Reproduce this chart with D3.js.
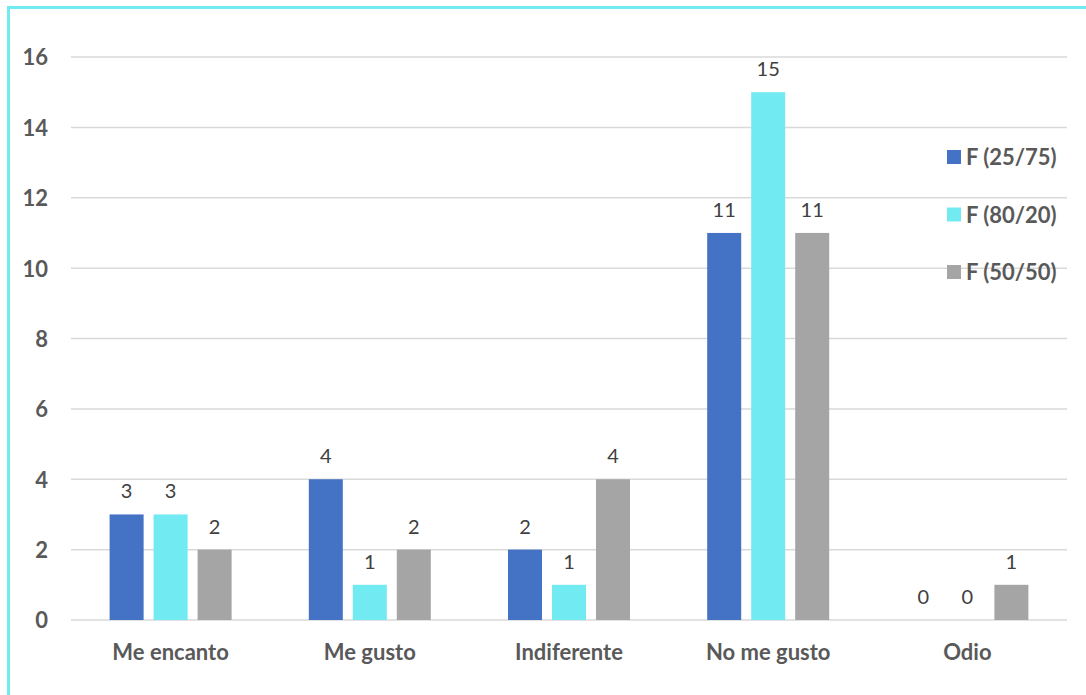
<!DOCTYPE html>
<html>
<head>
<meta charset="utf-8">
<script src="https://cdn.jsdelivr.net/npm/d3@7"></script>
<style>
  html, body { margin: 0; padding: 0; background: #fff; }
  svg { display: block; }
</style>
</head>
<body>
<svg id="chart" width="1086" height="695"></svg>
<script>
// Responses per preference level, one series per formulation
const categories = ["Me encanto", "Me gusto", "Indiferente", "No me gusto", "Odio"];
const seriesNames = ["F (25/75)", "F (80/20)", "F (50/50)"];
const f2575 = [3, 4, 2, 11, 0];
const f8020 = [3, 1, 1, 15, 0];
const f5050 = [2, 2, 4, 11, 1];
const yTicks = [0, 2, 4, 6, 8, 10, 12, 14, 16];
const colors = ["#4472C4", "#72EAF2", "#A5A5A5"];

const series = [f2575, f8020, f5050];
const svg = d3.select("#chart");
const font = "Lato, 'Open Sans', sans-serif";

// Frame: accent lines along left and top edges
svg.append("line").attr("x1", 8.5).attr("x2", 8.5).attr("y1", 6).attr("y2", 695)
  .attr("stroke", "#72EAF2").attr("stroke-width", 3);
svg.append("line").attr("x1", 7).attr("x2", 1086).attr("y1", 7.5).attr("y2", 7.5)
  .attr("stroke", "#72EAF2").attr("stroke-width", 3);

const plot = { left: 71, right: 1067, top: 57, bottom: 620 };

const x = d3.scaleBand().domain(categories).range([plot.left, plot.right]);
const y = d3.scaleLinear().domain([0, 16]).range([plot.bottom, plot.top]);
const inner = d3.scaleBand().domain(d3.range(series.length))
  .range([-61, 61]).paddingInner(0.227);

// Horizontal gridlines
svg.append("g").selectAll("line").data(yTicks).join("line")
  .attr("x1", plot.left).attr("x2", plot.right)
  .attr("y1", d => y(d)).attr("y2", d => y(d))
  .attr("stroke", "#D9D9D9").attr("stroke-width", 1.5);

// Y axis labels
const yAxis = d3.axisLeft(y).tickValues(yTicks).tickSize(0).tickPadding(0);
const yg = svg.append("g").attr("transform", `translate(48,0)`).call(yAxis);
yg.select(".domain").remove();
yg.selectAll("text")
  .attr("font-family", font).attr("font-size", 22).attr("font-weight", "bold")
  .attr("fill", "#595959").attr("dy", "0.36em");

// X axis labels
const xAxis = d3.axisBottom(x).tickSize(0).tickPadding(0);
const xg = svg.append("g").attr("transform", `translate(0,660)`).call(xAxis);
xg.select(".domain").remove();
xg.selectAll("text")
  .attr("font-family", font).attr("font-size", 22).attr("font-weight", "bold")
  .attr("fill", "#595959").attr("y", 0).attr("dy", 0);

// Bars and value labels
series.forEach((vals, si) => {
  const g = svg.append("g");
  const cx = (c) => x(c) + x.bandwidth() / 2 + inner(si);
  g.selectAll("rect").data(categories).join("rect")
    .attr("x", c => cx(c))
    .attr("width", inner.bandwidth())
    .attr("y", (c, i) => y(vals[i]))
    .attr("height", (c, i) => y(0) - y(vals[i]))
    .attr("fill", colors[si]);
  g.selectAll("text").data(categories).join("text")
    .attr("x", c => cx(c) + inner.bandwidth() / 2)
    .attr("y", (c, i) => y(vals[i]) - 16)
    .attr("text-anchor", "middle")
    .attr("font-family", font).attr("font-size", 20)
    .attr("fill", "#404040")
    .text((c, i) => vals[i]);
});

// Legend
const legend = svg.append("g");
seriesNames.forEach((name, i) => {
  const ly = 157 + i * 57.5;
  legend.append("rect").attr("x", 947).attr("y", ly - 7).attr("width", 14).attr("height", 14)
    .attr("fill", colors[i]);
  legend.append("text").attr("x", 966).attr("y", ly + 8)
    .attr("font-family", font).attr("font-size", 22).attr("font-weight", "bold")
    .attr("fill", "#595959").text(name);
});
</script>
</body>
</html>
